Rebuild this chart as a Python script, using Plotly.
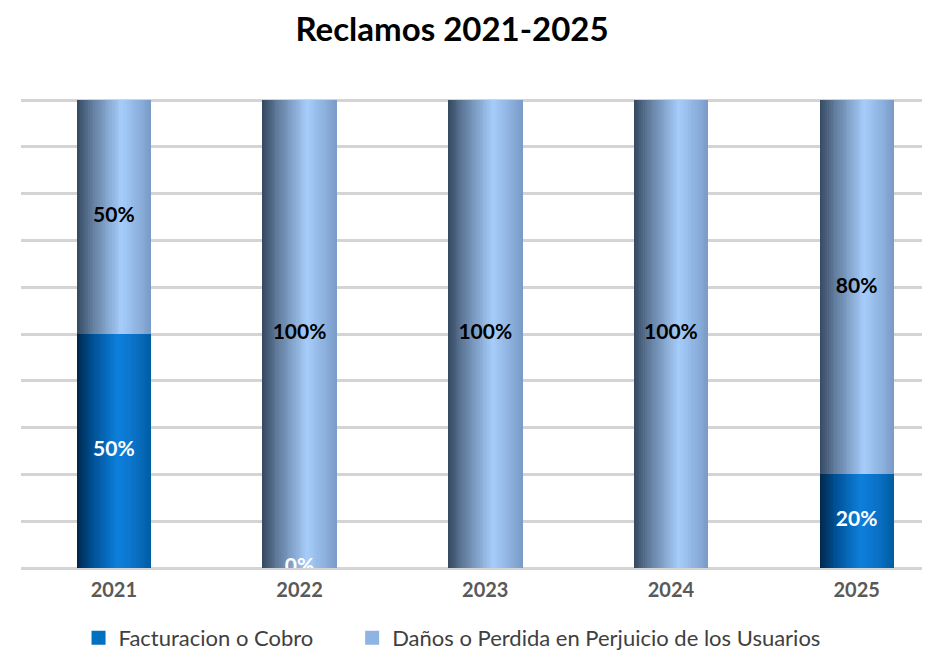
import plotly.graph_objects as go

years = ["2021", "2022", "2023", "2024", "2025"]
facturacion = [50, 0, None, None, 20]
danos = [50, 100, 100, 100, 80]
fact_labels = ["50%", "0%", "", "", "20%"]
danos_labels = ["50%", "100%", "100%", "100%", "80%"]

series_names = ["Facturacion o Cobro", "Daños o Perdida en Perjuicio de los Usuarios"]
legend_colors = ["#0070C0", "#8EB4E3"]

# gradient stops (position, rgb) across the bar width
grad_dark = [(0.0, (0, 38, 72)), (0.2, (0, 78, 145)), (0.55, (12, 128, 220)), (0.8, (10, 112, 196)), (1.0, (0, 92, 162))]
grad_light = [(0.0, (52, 72, 95)), (0.18, (92, 118, 150)), (0.6, (166, 205, 251)), (0.85, (140, 175, 220)), (1.0, (122, 154, 198))]


def interp(stops, t):
    for (p0, c0), (p1, c1) in zip(stops[:-1], stops[1:]):
        if p0 <= t <= p1:
            f = (t - p0) / (p1 - p0) if p1 > p0 else 0
            c = [round(a + (b - a) * f) for a, b in zip(c0, c1)]
            return f"rgb({c[0]},{c[1]},{c[2]})"
    c = stops[-1][1]
    return f"rgb({c[0]},{c[1]},{c[2]})"


FONT = "Lato, 'Open Sans', sans-serif"
BAR_W = 0.40
N = 40
idx = list(range(len(years)))
fact_vals = [v if v is not None else 0 for v in facturacion]

fig = go.Figure()

for vals, base, stops in [(fact_vals, None, grad_dark), (danos, fact_vals, grad_light)]:
    for i in range(N):
        t = (i + 0.5) / N
        fig.add_trace(go.Bar(
            x=idx, y=vals, base=base,
            width=BAR_W / N * 1.15,
            offset=-BAR_W / 2 + i * BAR_W / N,
            marker=dict(color=interp(stops, t), line=dict(width=0)),
            showlegend=False, hoverinfo="skip",
        ))

# legend entries (trailing no-break spaces widen the gap between the two items)
legend_pad = ["\u00a0" * 6, ""]
for name, col, pad in zip(series_names, legend_colors, legend_pad):
    fig.add_trace(go.Scatter(x=[None], y=[None], name=name + pad, mode="markers",
                             marker=dict(color=col, symbol="square", size=14), showlegend=True))

# data labels
fact_y = [v / 2 for v in fact_vals]
danos_y = [b + v / 2 for b, v in zip(fact_vals, danos)]
fig.add_trace(go.Scatter(
    x=idx, y=fact_y, text=fact_labels, mode="text",
    textfont=dict(family=FONT, size=21, color="white", weight="bold"),
    showlegend=False, hoverinfo="skip", cliponaxis=True,
))
fig.add_trace(go.Scatter(
    x=idx, y=danos_y, text=danos_labels, mode="text",
    textfont=dict(family=FONT, size=21, color="black", weight="bold"),
    showlegend=False, hoverinfo="skip", cliponaxis=True,
))

# page body has an 8px default margin, so the figure is sized to end at the window edge
fig.update_layout(
    width=922, height=643,
    barmode="overlay", bargap=0,
    paper_bgcolor="white", plot_bgcolor="white",
    margin=dict(l=13, r=0, t=91, b=83, autoexpand=False),
    title=dict(text="<b>Reclamos 2021-2025</b>", x=0.4816, xanchor="center", xref="container",
               y=0.966, yanchor="middle", yref="container",
               font=dict(family=FONT, size=33, color="black")),
    xaxis=dict(
        tickmode="array", tickvals=idx, ticktext=[f"<b>{y}</b>" for y in years],
        range=[-0.5, 4.395], showgrid=False, showline=False, zeroline=False,
        ticks="", ticklabelstandoff=8, automargin=False,
        tickfont=dict(family=FONT, size=20, color="#595959"),
    ),
    yaxis=dict(
        range=[0, 100.25], tickmode="array", tickvals=list(range(0, 101, 10)),
        showticklabels=False, showgrid=True, automargin=False,
        gridcolor="#D4D4D4", gridwidth=2.5, zeroline=True, zerolinecolor="#D4D4D4", zerolinewidth=2.5,
        showline=False,
    ),
    legend=dict(orientation="h", xref="container", yref="container", x=0.4816, xanchor="center",
                y=0.0202, yanchor="middle", font=dict(family=FONT, size=22, color="#404040")),
)

fig.write_html("out.html")
